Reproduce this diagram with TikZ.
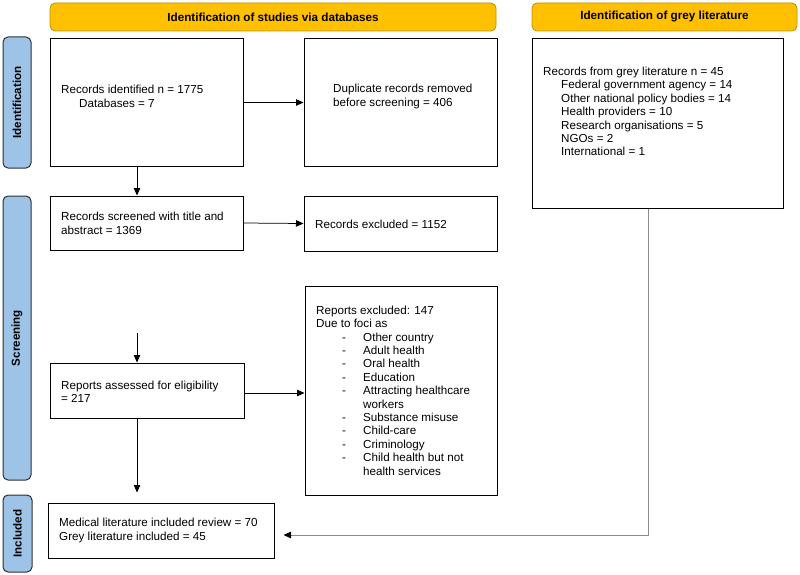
\documentclass[tikz,border=0pt]{standalone}
\usepackage{fontspec}
\setmainfont{Liberation Sans}
\usetikzlibrary{arrows.meta}
\definecolor{hdr}{HTML}{FFC000}
\definecolor{hdrline}{HTML}{B8900A}
\definecolor{side}{HTML}{9DC3E6}
\definecolor{sideline}{HTML}{2F2F2F}
\definecolor{greyline}{HTML}{8C8C8C}
\newcommand{\dl}[1]{\hspace*{26pt}\makebox[21pt][l]{-}#1}
\newcommand{\cl}[1]{\hspace*{47pt}#1}
\begin{document}
\begin{tikzpicture}[x=1pt,y=-1pt,
  font=\fontsize{11.65}{13.4}\selectfont,
  box/.style={draw=black, line width=1pt, inner sep=0pt},
  hdrbox/.style={draw=hdrline, fill=hdr, rounded corners=5pt, line width=0.8pt, inner sep=0pt, font=\bfseries\fontsize{11.7}{13.4}\selectfont},
  sidebox/.style={draw=sideline, fill=side, rounded corners=5pt, line width=1pt, inner sep=0pt, rotate=90, font=\bfseries\fontsize{11.6}{13.4}\selectfont},
  txt/.style={align=left, inner sep=0pt, anchor=west},
  arr/.style={-{Triangle[length=7.5pt,width=6.5pt]}, line width=0.75pt},
  garr/.style={-{Triangle[length=7.5pt,width=6.5pt,color=black]}, line width=1pt, draw=greyline}
]
\useasboundingbox (0,0) rectangle (800,575);
% headers
\node[hdrbox, minimum width=446pt, minimum height=28pt] (h1) at (273,17) {Identification of studies via databases};
\node[hdrbox, minimum width=265pt, minimum height=28pt] (h2) at (664.5,17) {Identification of grey literature};
% side labels
\node[sidebox, minimum width=131pt, minimum height=28pt] (s1) at (17,102.5) {Identification};
\node[sidebox, minimum width=284pt, minimum height=28pt] (s2) at (17,338) {Screening};
\node[sidebox, minimum width=77pt, minimum height=29pt] (s3) at (17.5,533.5) {Included};
% boxes
\node[box, minimum width=193pt, minimum height=127pt] (b1) at (146.5,102.5) {};
\node[box, minimum width=193pt, minimum height=127pt] (b2) at (400.5,102.5) {};
\node[box, minimum width=251pt, minimum height=169pt] (g) at (657.5,123.5) {};
\node[box, minimum width=193pt, minimum height=54pt] (b3) at (146.5,223) {};
\node[box, minimum width=193pt, minimum height=55pt] (b4) at (400.5,223.5) {};
\node[box, minimum width=192pt, minimum height=209pt] (b5) at (401,390.5) {};
\node[box, minimum width=194pt, minimum height=55pt] (b6) at (147,390.5) {};
\node[box, minimum width=226pt, minimum height=55pt] (b7) at (161,530.5) {};
% texts
\node[txt] (t1) at (61,96.5) {Records identified n = 1775\\\hspace*{18pt}Databases = 7};
\node[txt] (t2) at (333,96.5) {Duplicate records removed\\before screening = 406};
\node[txt] (tg) at (543,111.5) {Records from grey literature n = 45\\
\hspace*{18pt}Federal government agency = 14\\
\hspace*{18pt}Other national policy bodies = 14\\
\hspace*{18pt}Health providers = 10\\
\hspace*{18pt}Research organisations = 5\\
\hspace*{18pt}NGOs = 2\\
\hspace*{18pt}International = 1};
\node[txt] (t3) at (61,223.5) {Records screened with title and\\abstract = 1369};
\node[txt] (t4) at (315,224) {Records excluded = 1152};
\node[txt] (t5) at (316,390.5) {Reports excluded: 147\\Due to foci as\\
\dl{Other country}\\
\dl{Adult health}\\
\dl{Oral health}\\
\dl{Education}\\
\dl{Attracting healthcare}\\
\cl{workers}\\
\dl{Substance misuse}\\
\dl{Child-care}\\
\dl{Criminology}\\
\dl{Child health but not}\\
\cl{health services}};
\node[txt] (t6) at (61,391.5) {Reports assessed for eligibility\\= 217};
\node[txt] (t7) at (59,530.5) {Medical literature included review = 70\\Grey literature included = 45};
% connectors
\coordinate (a0) at (137,333);
\draw[arr] (b1.east) -- (b2.west);
\draw[arr] (b1.south -| a0) -- (b3.north -| a0);
\draw[arr] (b3.east) -- (b4.west);
\draw[arr] (a0) -- (b6.north -| a0);
\draw[arr] ([yshift=-2.5pt]b6.east) -- ([yshift=-2.5pt]b6.east -| b5.west);
\draw[arr, shorten >=10pt] (b6.south -| a0) -- (b7.north -| a0);
\coordinate (gc) at (648,535);
\draw[garr, shorten >=9pt] (g.south -| gc) -- (gc) -- (gc -| b7.east);
\end{tikzpicture}
\end{document}
